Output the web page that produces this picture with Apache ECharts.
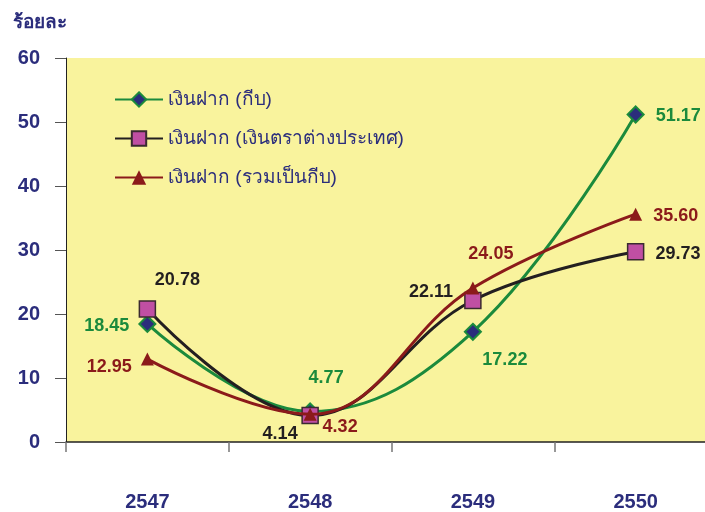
<!DOCTYPE html>
<html>
<head>
<meta charset="utf-8">
<script src="https://cdn.jsdelivr.net/npm/echarts@6/dist/echarts.min.js"></script>
<style>
  html, body { margin: 0; padding: 0; background: #fff; }
  #chart { width: 705px; height: 512px; }
</style>
</head>
<body>
<div id="chart"></div>
<script>
  // data
  const years = ['2547', '2548', '2549', '2550']
  const depositKip = [18.45, 4.77, 17.22, 51.17]
  const depositForeign = [20.78, 4.14, 22.11, 29.73]
  const depositTotal = [12.95, 4.32, 24.05, 35.60]
  const seriesNames = ['เงินฝาก (กีบ)', 'เงินฝาก (เงินตราต่างประเทศ)', 'เงินฝาก (รวมเป็นกีบ)']

  const navy = '#2b2d7c'
  const font = '"Liberation Sans", Arial, sans-serif'

  // label placement per point: [position, dx, dy]
  const kipLabelPos = [['left', -4, 2], ['top', 16, -10], ['bottom', 32, 5], ['right', 6, 2]]
  const foreignLabelPos = [['top', 30, -6], ['bottom', -30, -4], ['left', -6, -8], ['right', 6, 2]]
  const totalLabelPos = [['left', -4, 8], ['bottom', 30, -8], ['top', 18, -14], ['right', 6, 2]]

  function items(vals, pos, color) {
    return vals.map((v, i) => ({
      value: v,
      label: {
        show: true,
        position: pos[i][0],
        offset: [pos[i][1], pos[i][2]],
        color: color,
        fontFamily: font,
        fontWeight: 'bold',
        fontSize: 18,
        formatter: p => p.value.toFixed(2)
      }
    }))
  }

  const chart = echarts.init(document.getElementById('chart'))
  chart.setOption({
    animation: false,
    backgroundColor: '#ffffff',
    title: {
      text: 'ร้อยละ',
      left: 8,
      top: 8,
      textStyle: { color: navy, fontFamily: font, fontWeight: 'bold', fontSize: 19 }
    },
    legend: {
      orient: 'vertical',
      left: 109,
      top: 85,
      itemGap: 20,
      itemWidth: 48,
      itemHeight: 18,
      textStyle: { color: navy, fontFamily: font, fontSize: 19 },
      data: seriesNames
    },
    grid: {
      left: 66,
      top: 58,
      width: 651,
      height: 384,
      outerBoundsMode: 'none',
      containLabel: false,
      show: true,
      backgroundColor: '#f9f39d',
      borderWidth: 0
    },
    xAxis: {
      type: 'category',
      data: years,
      boundaryGap: true,
      axisLine: { show: true, lineStyle: { color: '#222', width: 1.5 } },
      axisTick: { show: true, length: 10, lineStyle: { color: '#777', width: 1.5 } },
      axisLabel: { color: navy, fontFamily: font, fontWeight: 'bold', fontSize: 20, margin: 50 },
      splitLine: { show: false }
    },
    yAxis: {
      type: 'value',
      min: 0,
      max: 60,
      interval: 10,
      axisLine: { show: true, lineStyle: { color: '#222', width: 1 } },
      axisTick: { show: true, length: 11, lineStyle: { color: '#555' } },
      axisLabel: { color: navy, fontFamily: font, fontWeight: 'bold', fontSize: 20, margin: 26 },
      splitLine: { show: false }
    },
    series: [
      {
        name: seriesNames[0],
        type: 'line',
        smooth: 0.4,
        data: items(depositKip, kipLabelPos, '#1b8a3c'),
        symbol: 'diamond',
        symbolSize: 16,
        lineStyle: { color: '#1b8a3c', width: 3 },
        itemStyle: { color: '#2b2d7c', borderColor: '#1b8a3c', borderWidth: 2 },
        z: 3
      },
      {
        name: seriesNames[1],
        type: 'line',
        smooth: 0.4,
        data: items(depositForeign, foreignLabelPos, '#231f20'),
        symbol: 'rect',
        symbolSize: 16,
        lineStyle: { color: '#231f20', width: 3 },
        itemStyle: { color: '#c04fa3', borderColor: '#3a2a30', borderWidth: 1.5 },
        z: 4
      },
      {
        name: seriesNames[2],
        type: 'line',
        smooth: 0.4,
        data: items(depositTotal, totalLabelPos, '#8b1a1a'),
        symbol: 'triangle',
        symbolSize: 13,
        lineStyle: { color: '#8b1a1a', width: 3 },
        itemStyle: { color: '#8b1a1a', borderColor: '#8b1a1a', borderWidth: 0 },
        z: 5
      }
    ]
  })
</script>
</body>
</html>
